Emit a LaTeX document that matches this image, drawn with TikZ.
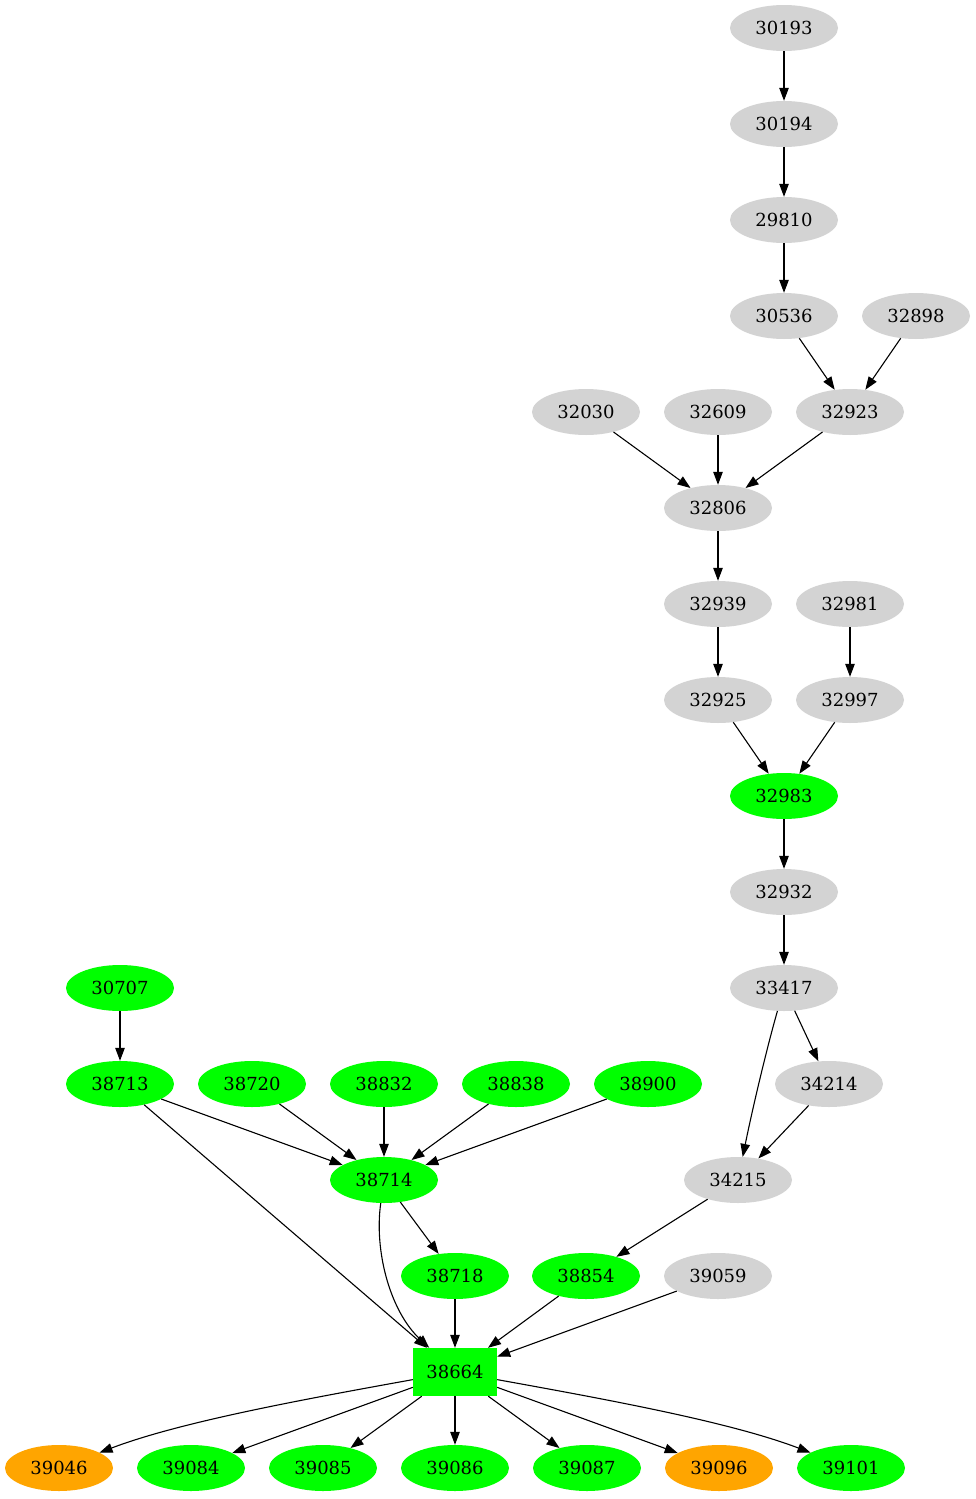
\documentclass[tikz,border=0pt]{standalone}
\usepackage{fontspec}
\setmainfont{DejaVu Serif}
\usetikzlibrary{arrows.meta,shapes.geometric}
\definecolor{lg}{HTML}{D3D3D3}
\definecolor{gn}{HTML}{00FF00}
\definecolor{og}{HTML}{FFA500}
\begin{document}
\begin{tikzpicture}[x=1pt,y=-1pt,
  nd/.style={ellipse, minimum width=108pt, minimum height=46pt, inner sep=0pt, font=\fontsize{18}{20}\selectfont},
  gray/.style={nd, fill=lg},
  green/.style={nd, fill=gn},
  orange/.style={nd, fill=og},
  boxnode/.style={rectangle, fill=gn, minimum width=84pt, minimum height=48pt, inner sep=0pt, font=\fontsize{18}{20}\selectfont},
  edge/.style={draw=black, line width=1.1pt, -{Triangle[length=13pt,width=9.5pt]}}
]
\useasboundingbox (0,0) rectangle (975,1499);
% nodes
\node[gray] (n30193) at (784,28) {30193};
\node[gray] (n30194) at (784,124) {30194};
\node[gray] (n29810) at (784,220) {29810};
\node[gray] (n30536) at (784,316) {30536};
\node[gray] (n32898) at (916,316) {32898};
\node[gray] (n32030) at (586,412) {32030};
\node[gray] (n32609) at (718,412) {32609};
\node[gray] (n32923) at (850,412) {32923};
\node[gray] (n32806) at (718,508) {32806};
\node[gray] (n32939) at (718,604) {32939};
\node[gray] (n32981) at (850,604) {32981};
\node[gray] (n32925) at (718,700) {32925};
\node[gray] (n32997) at (850,700) {32997};
\node[green] (n32983) at (784,796) {32983};
\node[gray] (n32932) at (784,892) {32932};
\node[gray] (n33417) at (784,988) {33417};
\node[green] (n30707) at (120,988) {30707};
\node[green] (n38713) at (120,1084) {38713};
\node[green] (n38720) at (252,1084) {38720};
\node[green] (n38832) at (384,1084) {38832};
\node[green] (n38838) at (516,1084) {38838};
\node[green] (n38900) at (648,1084) {38900};
\node[gray] (n34214) at (829,1084) {34214};
\node[green] (n38714) at (384,1180) {38714};
\node[gray] (n34215) at (738,1180) {34215};
\node[green] (n38718) at (455,1276) {38718};
\node[green] (n38854) at (586,1276) {38854};
\node[gray] (n39059) at (718,1276) {39059};
\node[boxnode] (n38664) at (455,1372) {38664};
\node[orange] (n39046) at (59,1468) {39046};
\node[green] (n39084) at (191,1468) {39084};
\node[green] (n39085) at (323,1468) {39085};
\node[green] (n39086) at (455,1468) {39086};
\node[green] (n39087) at (587,1468) {39087};
\node[orange] (n39096) at (719,1468) {39096};
\node[green] (n39101) at (851,1468) {39101};
% edges
\draw[edge] (n30193) -- (n30194);
\draw[edge] (n30194) -- (n29810);
\draw[edge] (n29810) -- (n30536);
\draw[edge] (n30536) -- (n32923);
\draw[edge] (n32898) -- (n32923);
\draw[edge] (n32030) -- (n32806);
\draw[edge] (n32609) -- (n32806);
\draw[edge] (n32923) -- (n32806);
\draw[edge] (n32806) -- (n32939);
\draw[edge] (n32939) -- (n32925);
\draw[edge] (n32981) -- (n32997);
\draw[edge] (n32925) -- (n32983);
\draw[edge] (n32997) -- (n32983);
\draw[edge] (n32983) -- (n32932);
\draw[edge] (n32932) -- (n33417);
\draw[edge] (n33417) -- (n34214);
\draw[edge] (n33417) .. controls (766,1051) and (752,1111) .. (n34215);
\draw[edge] (n34214) -- (n34215);
\draw[edge] (n30707) -- (n38713);
\draw[edge] (n38713) -- (n38714);
\draw[edge] (n38720) -- (n38714);
\draw[edge] (n38832) -- (n38714);
\draw[edge] (n38838) -- (n38714);
\draw[edge] (n38900) -- (n38714);
\draw[edge] (n38713) -- (n38664);
\draw[edge] (n38714) .. controls (374,1251) and (390,1311) .. (n38664);
\draw[edge] (n38714) -- (n38718);
\draw[edge] (n38718) -- (n38664);
\draw[edge] (n34215) -- (n38854);
\draw[edge] (n38854) -- (n38664);
\draw[edge] (n39059) -- (n38664);
\draw[edge] (n38664) .. controls (300,1400) and (180,1422) .. (n39046);
\draw[edge] (n38664) -- (n39084);
\draw[edge] (n38664) -- (n39085);
\draw[edge] (n38664) -- (n39086);
\draw[edge] (n38664) -- (n39087);
\draw[edge] (n38664) -- (n39096);
\draw[edge] (n38664) .. controls (610,1400) and (730,1422) .. (n39101);
\end{tikzpicture}
\end{document}
